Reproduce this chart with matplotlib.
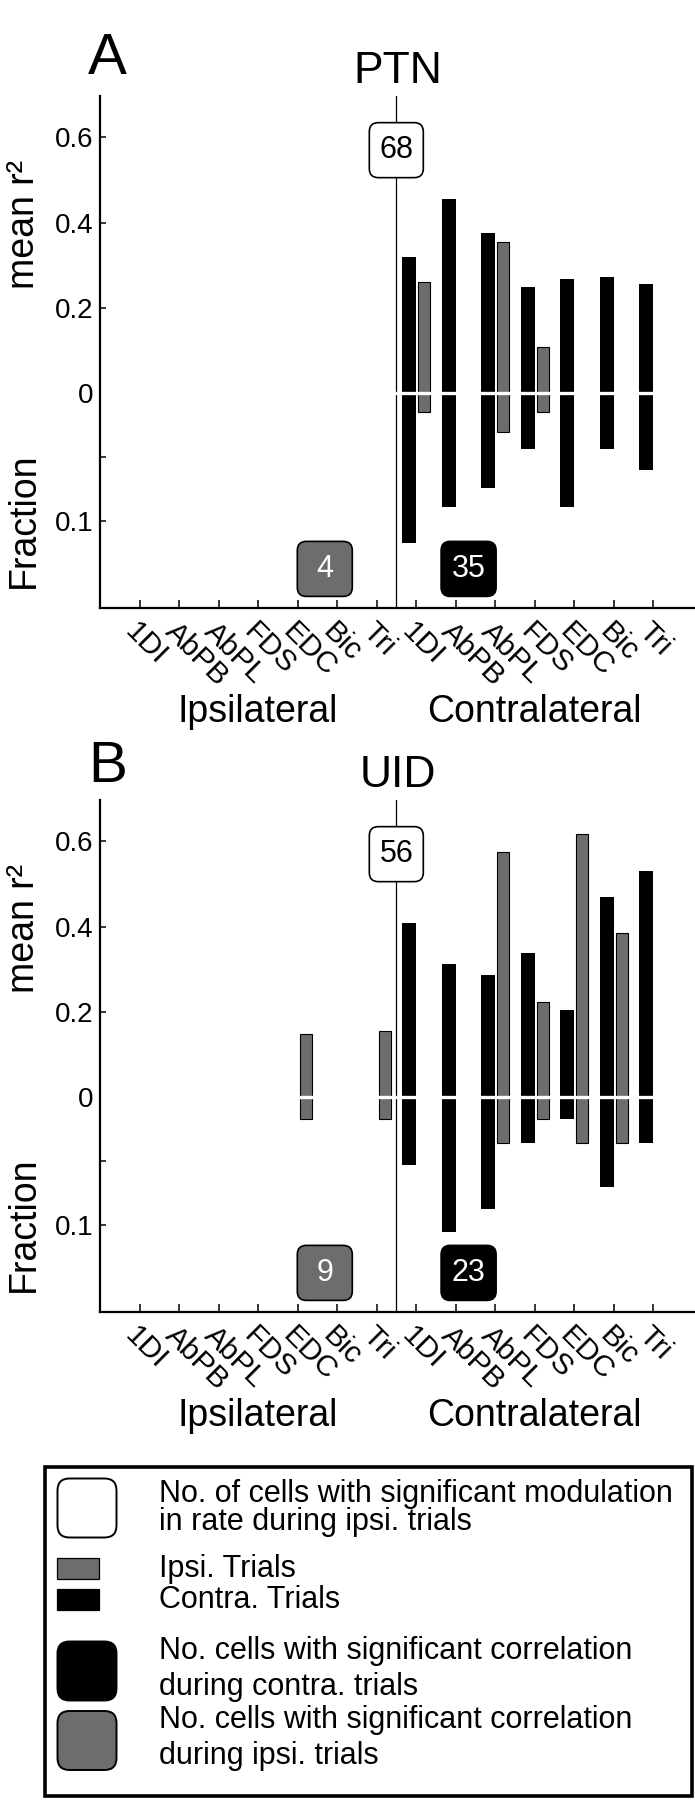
import numpy as np
import matplotlib
matplotlib.use('Agg')
import matplotlib.pyplot as plt
import matplotlib.transforms as mtransforms
from matplotlib.patches import FancyBboxPatch, Rectangle

plt.rcParams['font.family'] = ['Liberation Sans', 'DejaVu Sans']

nan = np.nan

# ---------------- data ----------------
muscles = ['1DI', 'AbPB', 'AbPL', 'FDS', 'EDC', 'Bic', 'Tri']
side_labels = ['Ipsilateral', 'Contralateral']
tick_labels = muscles + muscles          # ipsilateral muscles, then contralateral muscles
y_tick_values = [0.6, 0.4, 0.2, 0.0]
frac_tick_values = [0.1]
frac_minor_values = [0.05]

# Panel A : PTN  (14 muscles: 7 ipsilateral + 7 contralateral)
ptn_contra_r2 = [nan, nan, nan, nan, nan, nan, nan,
                 0.319, 0.455, 0.376, 0.248, 0.269, 0.273, 0.255]
ptn_contra_frac = [nan, nan, nan, nan, nan, nan, nan,
                   0.117, 0.089, 0.074, 0.044, 0.089, 0.044, 0.060]
ptn_ipsi_r2 = [nan, nan, nan, nan, nan, nan, nan,
               0.261, nan, 0.354, 0.109, nan, nan, nan]
ptn_ipsi_frac = [nan, nan, nan, nan, nan, nan, nan,
                 0.015, nan, 0.030, 0.015, nan, nan, nan]
ptn_counts = {'modulated': 68, 'ipsi_corr': 4, 'contra_corr': 35}

# Panel B : UID
uid_contra_r2 = [nan, nan, nan, nan, nan, nan, nan,
                 0.409, 0.312, 0.286, 0.338, 0.205, 0.469, 0.530]
uid_contra_frac = [nan, nan, nan, nan, nan, nan, nan,
                   0.053, 0.105, 0.087, 0.036, 0.017, 0.070, 0.036]
uid_ipsi_r2 = [nan, nan, nan, nan, 0.148, nan, 0.155,
               nan, nan, 0.575, 0.224, 0.617, 0.386, nan]
uid_ipsi_frac = [nan, nan, nan, nan, 0.017, nan, 0.017,
                 nan, nan, 0.036, 0.017, 0.036, 0.036, nan]
uid_counts = {'modulated': 56, 'ipsi_corr': 9, 'contra_corr': 23}

# ---------------- style ----------------
FRAC_SCALE = 3.0       # lower half: fraction drawn at 3x the r^2 scale
GRAY = '#6d6d6d'
W, H = 695, 1800
fig = plt.figure(figsize=(W / 100, H / 100), dpi=100)

ov = fig.add_axes([0, 0, 1, 1], zorder=10)
ov.set_xlim(0, W)
ov.set_ylim(H, 0)
ov.axis('off')


def to_px(ax, x, y):
    dx, dy = ax.transData.transform((x, y))
    return dx, H - dy


def rbox(cx, cy, w, h, face, r=9, lw=1.2):
    p = FancyBboxPatch((cx - w / 2, cy - h / 2), w, h,
                       boxstyle=f'round,pad=0,rounding_size={r}',
                       facecolor=face, edgecolor='black', linewidth=lw)
    ov.add_patch(p)


def panel(top_px, letter, title, contra_r2, contra_frac, ipsi_r2, ipsi_frac,
          counts, letter_base, title_base):
    bottom_px = top_px + 511.7
    ax = fig.add_axes([100 / W, 1 - bottom_px / H, (W - 100) / W, 511.7 / H])
    x = np.arange(1, 15)
    cr2 = np.array(contra_r2); cfr = np.array(contra_frac)
    ir2 = np.array(ipsi_r2); ifr = np.array(ipsi_frac)

    m = ~np.isnan(cr2)
    ax.bar(x[m] - 0.35, cr2[m], width=0.35, align='edge', color='black', zorder=1)
    m = ~np.isnan(cfr)
    ax.bar(x[m] - 0.35, -FRAC_SCALE * cfr[m], width=0.35, align='edge', color='black', zorder=1)
    m = ~np.isnan(ir2)
    ax.bar(x[m] + 0.05, ir2[m], width=0.31, align='edge', color=GRAY,
           edgecolor='black', linewidth=0.8, zorder=1)
    m = ~np.isnan(ifr)
    ax.bar(x[m] + 0.05, -FRAC_SCALE * ifr[m], width=0.31, align='edge', color=GRAY,
           edgecolor='black', linewidth=0.8, zorder=1)

    ax.axvline(7.5, color='black', lw=0.9, zorder=2)
    ax.axhline(0, color='white', lw=2.4, zorder=2.2)

    ax.set_xlim(0, 15.06)
    ax.set_ylim(-0.503, 0.697)
    for s in ['top', 'right']:
        ax.spines[s].set_visible(False)
    for s in ['left', 'bottom']:
        ax.spines[s].set_linewidth(1.6)

    yt = list(y_tick_values) + [-FRAC_SCALE * v for v in frac_tick_values]
    ax.set_yticks(yt)
    ax.set_yticklabels(['0.6', '0.4', '0.2', '0'] + ['0.1'])
    ax.set_yticks([-FRAC_SCALE * v for v in frac_minor_values], minor=True)
    ax.tick_params(axis='y', which='both', direction='in', length=4, width=1.1,
                   labelsize=20, pad=5)
    ax.set_xticks(x)
    ax.set_xticklabels(tick_labels, rotation=-45, ha='left', rotation_mode='anchor',
                       fontsize=21.5)
    ax.tick_params(axis='x', direction='in', length=6, width=1.1, pad=7)

    tr = mtransforms.blended_transform_factory(ax.transData, ax.transAxes)
    ax.text(4, -114.5 / 511.7, side_labels[0], transform=tr, ha='center',
            va='baseline', fontsize=27)
    ax.text(11, -114.5 / 511.7, side_labels[1], transform=tr, ha='center',
            va='baseline', fontsize=27)

    # count boxes
    cx, cy = to_px(ax, 7.5, 0.57)
    rbox(cx, cy, 54, 55, 'white')
    ov.text(cx, cy, str(counts['modulated']), ha='center', va='center', fontsize=22)
    cx, cy = to_px(ax, 5.69, -0.412)
    rbox(cx, cy, 55, 55, GRAY)
    ov.text(cx, cy, str(counts['ipsi_corr']), ha='center', va='center', fontsize=22,
            color='white')
    cx, cy = to_px(ax, 9.33, -0.412)
    rbox(cx, cy, 55, 55, 'black')
    ov.text(cx, cy, str(counts['contra_corr']), ha='center', va='center', fontsize=22,
            color='white')

    # labels
    ov.text(88, letter_base, letter, ha='left', va='baseline', fontsize=42)
    ov.text(398, title_base, title, ha='center', va='baseline', fontsize=32)
    ov.text(33.5, top_px + 128.2, 'mean r²', rotation=90, rotation_mode='anchor',
            ha='center', va='baseline', fontsize=27)
    ov.text(33.5, top_px + 424, 'Fraction', rotation=90, rotation_mode='anchor',
            ha='center', va='baseline', fontsize=27)
    return ax


panel(96, 'A', 'PTN', ptn_contra_r2, ptn_contra_frac, ptn_ipsi_r2, ptn_ipsi_frac,
      ptn_counts, 74, 83)
panel(800, 'B', 'UID', uid_contra_r2, uid_contra_frac, uid_ipsi_r2, uid_ipsi_frac,
      uid_counts, 782, 787)

# ---------------- legend ----------------
ov.add_patch(Rectangle((45, 1466.5), 647, 329.5, facecolor='none',
                       edgecolor='black', linewidth=2.6))
rbox(87, 1508, 59, 59, 'white', r=12, lw=1.4)
ov.add_patch(Rectangle((57.3, 1558.3), 42, 21, facecolor=GRAY, edgecolor='black', linewidth=0.9))
ov.add_patch(Rectangle((57.3, 1589.3), 42, 21, facecolor='black', edgecolor='black', linewidth=0.9))
rbox(87, 1671, 59, 59, 'black', r=12, lw=1.4)
rbox(87, 1740.5, 59, 59, GRAY, r=12, lw=1.4)

legend_lines = [
    ('No. of cells with significant modulation', 1502),
    ('in rate during ipsi. trials', 1530),
    ('Ipsi. Trials', 1577),
    ('Contra. Trials', 1608),
    ('No. cells with significant correlation', 1659),
    ('during contra. trials', 1695),
    ('No. cells with significant correlation', 1728),
    ('during ipsi. trials', 1764),
]
for txt, yb in legend_lines:
    ov.text(159, yb, txt, ha='left', va='baseline', fontsize=22)

fig.savefig('out.png', dpi=100)
